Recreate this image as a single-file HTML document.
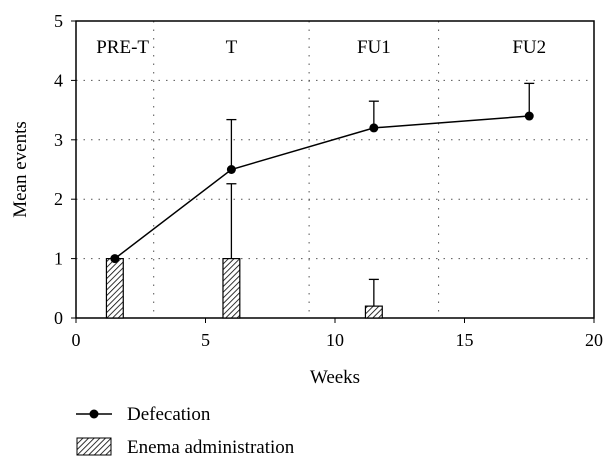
<!DOCTYPE html>
<html><head><meta charset="utf-8"><style>
body{margin:0;background:#fff;}
svg{display:block;font-family:"Liberation Serif",serif;}
</style></head><body>
<svg id="chart" width="615" height="472">
<defs><pattern id="hatch" width="4" height="4" patternUnits="userSpaceOnUse" patternTransform="rotate(45)"><rect width="4" height="4" fill="#fff"/><line x1="0" y1="0" x2="0" y2="4" stroke="#000" stroke-width="1.6"/></pattern></defs>
</svg>
<script>
const lineX=[1.5,6,11.5,17.5];
const lineY=[1,2.5,3.2,3.4];
const lineErr=[0,0.84,0.45,0.55];
const barX=[1.5,6,11.5];
const barY=[1,1,0.2];
const barErr=[0,1.26,0.45];
const xTicks=[0,5,10,15,20];
const yTicks=[0,1,2,3,4,5];
const phaseX=[3,9,14];
const phaseLabels=["PRE-T","T","FU1","FU2"];
const phaseLabelX=[1.8,6,11.5,17.5];
const svg=document.getElementById('chart');
const NS='http://www.w3.org/2000/svg';
const X=v=>76+v*(594-76)/20;
const Y=v=>318-v*(318-21)/5;
function mk(t,a,p){const e=document.createElementNS(NS,t);for(const k in a)e.setAttribute(k,a[k]);(p||svg).appendChild(e);return e;}
yTicks.slice(1,5).forEach(v=>{const e=mk('line',{x1:X(0),x2:X(20),y1:Y(v),y2:Y(v),stroke:'#555','stroke-dasharray':'1.5 6'});

});
phaseX.forEach(v=>{const e=mk('line',{x1:X(v),x2:X(v),y1:Y(5),y2:Y(0),stroke:'#555','stroke-dasharray':'1.5 7'});

});
phaseLabels.forEach((s,i)=>{const e=mk('text',{x:X(phaseLabelX[i]),y:53,'font-size':19,'text-anchor':'middle'});e.textContent=s;

});
const fr=mk('rect',{x:X(0),y:Y(5),width:X(20)-X(0),height:Y(0)-Y(5),fill:'none',stroke:'#000','stroke-width':1.5});


xTicks.forEach(v=>{mk('line',{x1:X(v),x2:X(v),y1:Y(0),y2:Y(0)+5,stroke:'#000'});
const t=mk('text',{x:X(v),y:346,'font-size':18,'text-anchor':'middle'});t.textContent=v;

});
yTicks.forEach(v=>{mk('line',{x1:X(0)-5,x2:X(0),y1:Y(v),y2:Y(v),stroke:'#000'});
const t=mk('text',{x:63,y:Y(v)+6,'font-size':18,'text-anchor':'end'});t.textContent=v;

});
const xt=mk('text',{x:X(10),y:383,'font-size':19,'text-anchor':'middle'});xt.textContent='Weeks';


const yt=mk('text',{x:0,y:0,'font-size':19,'text-anchor':'middle',transform:'translate(26,'+Y(2.5)+') rotate(-90)'});yt.textContent='Mean events';


const bw=0.65;
barX.forEach((v,i)=>{
if(barErr[i]>0){mk('line',{x1:X(v),x2:X(v),y1:Y(barY[i]),y2:Y(barY[i]+barErr[i]),stroke:'#000','stroke-width':1.3});
mk('line',{x1:X(v)-5,x2:X(v)+5,y1:Y(barY[i]+barErr[i]),y2:Y(barY[i]+barErr[i]),stroke:'#000','stroke-width':1.3});}
const b=mk('rect',{x:X(v-bw/2),y:Y(barY[i]),width:X(bw)-X(0),height:Y(0)-Y(barY[i]),fill:'url(#hatch)',stroke:'#000','stroke-width':1.2});

});
const pl=mk('polyline',{points:lineX.map((v,i)=>X(v)+','+Y(lineY[i])).join(' '),fill:'none',stroke:'#000','stroke-width':1.5});


lineX.forEach((v,i)=>{
if(lineErr[i]>0){mk('line',{x1:X(v),x2:X(v),y1:Y(lineY[i]),y2:Y(lineY[i]+lineErr[i]),stroke:'#000','stroke-width':1.3});
mk('line',{x1:X(v)-5,x2:X(v)+5,y1:Y(lineY[i]+lineErr[i]),y2:Y(lineY[i]+lineErr[i]),stroke:'#000','stroke-width':1.3});}
const c=mk('circle',{cx:X(v),cy:Y(lineY[i]),r:4.5,fill:'#000'});

});
const g1=mk('g',{});
mk('line',{x1:76,x2:112,y1:414,y2:414,stroke:'#000','stroke-width':1.5},g1);
mk('circle',{cx:94,cy:414,r:4.5,fill:'#000'},g1);
const l1=mk('text',{x:127,y:420,'font-size':19},g1);l1.textContent='Defecation';
const g2=mk('g',{});
mk('rect',{x:77,y:438,width:34,height:17,fill:'url(#hatch)',stroke:'#000'},g2);
const l2=mk('text',{x:127,y:453,'font-size':19},g2);l2.textContent='Enema administration';
</script>
</body></html>
